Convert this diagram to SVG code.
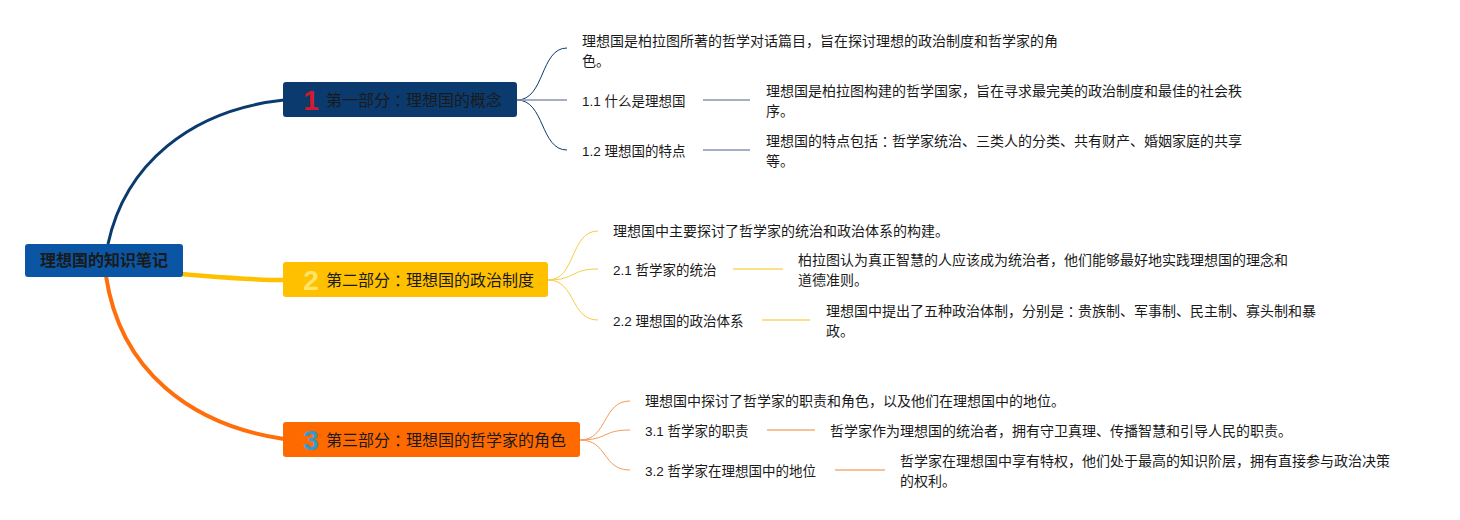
<svg xmlns="http://www.w3.org/2000/svg" width="1460" height="520" viewBox="0 0 1460 520">
<style>
text{font-family:"Liberation Sans","Noto Sans CJK SC",sans-serif;fill:#1a1a1a;dominant-baseline:central}
.root{font-size:16px;font-weight:bold;text-anchor:middle}
.main{font-size:16px}
.sub{font-size:13.5px}
.txt{font-size:14px}
.col{font-family:"Noto Sans CJK JP",sans-serif}
.badge{font-size:28px;font-weight:bold;font-family:"Liberation Sans",sans-serif;text-anchor:middle}
text.b1{fill:#D41B2C}
text.b2{fill:#FFE46A}
text.b3{fill:#2E9BD6}
.c{fill:none}
</style>
<rect width="1460" height="520" fill="#ffffff"/>
<g id="connectors">
  <path class="c" d="M108,244 C125,165 190,110 284,100" stroke="#0B3A6F" stroke-width="3"/>
  <path class="c" d="M180,274 C220,277 250,280 284,280" stroke="#FFC000" stroke-width="4.5"/>
  <path class="c" d="M106,276 C120,370 190,425 284,439" stroke="#FF6E0A" stroke-width="4"/>
  <g stroke="#0B3A6F" stroke-width="1">
    <path class="c" d="M517,100 C545,100 540,48 567,48"/>
    <path class="c" d="M517,100 C545,100 540,150 567,150"/>
  </g>
  <path class="c" d="M517,100 L567,100" stroke="#8696AD" stroke-width="1.5"/>
  <g stroke="#8696AD" stroke-width="1.5">
    <path d="M703,100 L750,100"/>
    <path d="M703,150 L750,150"/>
  </g>
  <g stroke="#F8CB48" stroke-width="1">
    <path class="c" d="M548,280 C576,280 570,231 598,231"/>
    <path class="c" d="M548,280 C576,280 570,269 598,269"/>
    <path class="c" d="M548,280 C576,280 570,320 598,320"/>
  </g>
  <g stroke="#FBE08A" stroke-width="2">
    <path d="M733,269 L783,269"/>
    <path d="M762,320 L810,320"/>
  </g>
  <g stroke="#F49A58" stroke-width="1">
    <path class="c" d="M580,440 C608,440 602,401 630,401"/>
    <path class="c" d="M580,440 C608,440 602,430 630,430"/>
    <path class="c" d="M580,440 C608,440 602,470 630,470"/>
  </g>
  <g stroke="#F6C29A" stroke-width="2">
    <path d="M767,430 L815,430"/>
    <path d="M835,470 L885,470"/>
  </g>
</g>
<g id="root">
  <rect x="25" y="244" width="158" height="33" rx="3" fill="#0A56A4"/>
  <text class="root" x="104" y="260.5">理想国的知识笔记</text>
</g>
<g id="part1">
  <rect x="283" y="82" width="234" height="35" rx="3" fill="#0B3A6F"/>
  <text class="badge b1" x="311" y="100">1</text>
  <text class="main" x="326" y="100">第一部分<tspan class="col">：</tspan>理想国的概念</text>
</g>
<g id="part2">
  <rect x="283" y="262" width="265" height="35" rx="3" fill="#FFC000"/>
  <text class="badge b2" x="311" y="280">2</text>
  <text class="main" x="326" y="280">第二部分<tspan class="col">：</tspan>理想国的政治制度</text>
</g>
<g id="part3">
  <rect x="283" y="422" width="297" height="35" rx="3" fill="#FF6A00"/>
  <text class="badge b3" x="311" y="440">3</text>
  <text class="main" x="326" y="440">第三部分<tspan class="col">：</tspan>理想国的哲学家的角色</text>
</g>
<g id="p1-intro"><text class="txt" x="582" y="41">理想国是柏拉图所著的哲学对话篇目，旨在探讨理想的政治制度和哲学家的角</text><text class="txt" x="582" y="61">色。</text></g>
<g id="p1-1"><text class="sub" x="582" y="101">1.1 什么是理想国</text></g>
<g id="p1-1-d"><text class="txt" x="766" y="91">理想国是柏拉图构建的哲学国家，旨在寻求最完美的政治制度和最佳的社会秩</text><text class="txt" x="766" y="111">序。</text></g>
<g id="p1-2"><text class="sub" x="582" y="151">1.2 理想国的特点</text></g>
<g id="p1-2-d"><text class="txt" x="766" y="141">理想国的特点包括<tspan class="col">：</tspan>哲学家统治、三类人的分类、共有财产、婚姻家庭的共享</text><text class="txt" x="766" y="161">等。</text></g>
<g id="p2-intro"><text class="txt" x="613" y="231">理想国中主要探讨了哲学家的统治和政治体系的构建。</text></g>
<g id="p2-1"><text class="sub" x="613" y="270">2.1 哲学家的统治</text></g>
<g id="p2-1-d"><text class="txt" x="798" y="260">柏拉图认为真正智慧的人应该成为统治者，他们能够最好地实践理想国的理念和</text><text class="txt" x="798" y="280">道德准则。</text></g>
<g id="p2-2"><text class="sub" x="613" y="321">2.2 理想国的政治体系</text></g>
<g id="p2-2-d"><text class="txt" x="826" y="311">理想国中提出了五种政治体制，分别是<tspan class="col">：</tspan>贵族制、军事制、民主制、寡头制和暴</text><text class="txt" x="826" y="331">政。</text></g>
<g id="p3-intro"><text class="txt" x="645" y="401">理想国中探讨了哲学家的职责和角色，以及他们在理想国中的地位。</text></g>
<g id="p3-1"><text class="sub" x="645" y="431">3.1 哲学家的职责</text></g>
<g id="p3-1-d"><text class="txt" x="830" y="431">哲学家作为理想国的统治者，拥有守卫真理、传播智慧和引导人民的职责。</text></g>
<g id="p3-2"><text class="sub" x="645" y="471">3.2 哲学家在理想国中的地位</text></g>
<g id="p3-2-d"><text class="txt" x="900" y="461">哲学家在理想国中享有特权，他们处于最高的知识阶层，拥有直接参与政治决策</text><text class="txt" x="900" y="481">的权利。</text></g>
</svg>
